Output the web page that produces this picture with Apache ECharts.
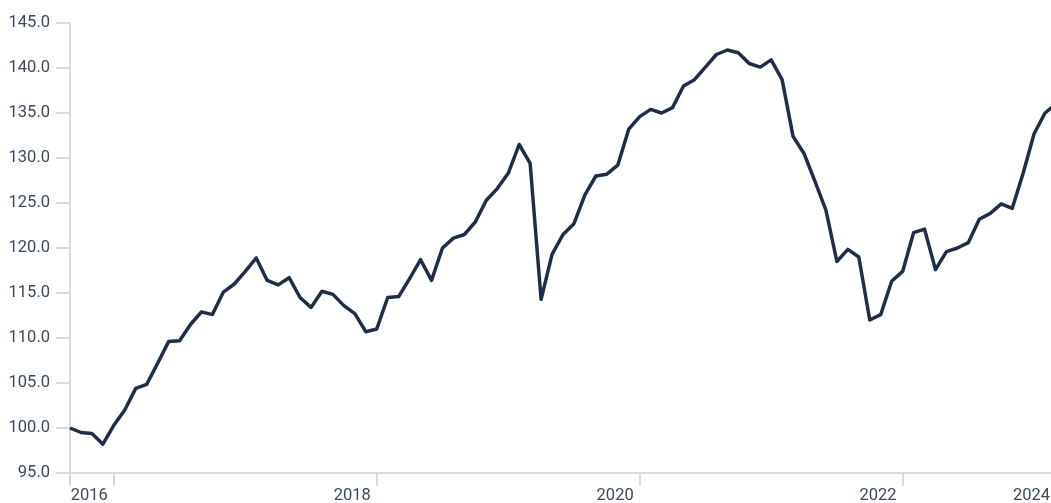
<!DOCTYPE html>
<html>
<head>
<meta charset="utf-8">
<script src="https://cdn.jsdelivr.net/npm/echarts@6/dist/echarts.min.js"></script>
<style>
html,body{margin:0;padding:0;background:#fff;}
#chart{width:1051px;height:503px;}
</style>
</head>
<body>
<div id="chart"></div>
<script>
const categories = [
 "2016-08","2016-09","2016-10","2016-11","2016-12",
 "2017-01","2017-02","2017-03","2017-04","2017-05","2017-06","2017-07","2017-08","2017-09","2017-10","2017-11","2017-12",
 "2018-01","2018-02","2018-03","2018-04","2018-05","2018-06","2018-07","2018-08","2018-09","2018-10","2018-11","2018-12",
 "2019-01","2019-02","2019-03","2019-04","2019-05","2019-06","2019-07","2019-08","2019-09","2019-10","2019-11","2019-12",
 "2020-01","2020-02","2020-03","2020-04","2020-05","2020-06","2020-07","2020-08","2020-09","2020-10","2020-11","2020-12",
 "2021-01","2021-02","2021-03","2021-04","2021-05","2021-06","2021-07","2021-08","2021-09","2021-10","2021-11","2021-12",
 "2022-01","2022-02","2022-03","2022-04","2022-05","2022-06","2022-07","2022-08","2022-09","2022-10","2022-11","2022-12",
 "2023-01","2023-02","2023-03","2023-04","2023-05","2023-06","2023-07","2023-08","2023-09","2023-10","2023-11","2023-12",
 "2024-01","2024-02"
];
const values = [
 100.0, 99.5, 99.4, 98.2, 100.3,
 102.0, 104.4, 104.85, 107.2, 109.6, 109.7, 111.5, 112.9, 112.6, 115.1, 116.0, 117.4,
 118.9, 116.4, 115.9, 116.7, 114.5, 113.4, 115.2, 114.85, 113.6, 112.7, 110.7, 111.0,
 114.5, 114.6, 116.6, 118.7, 116.4, 120.0, 121.1, 121.5, 122.9, 125.3, 126.6, 128.3,
 131.5, 129.4, 114.3, 119.3, 121.5, 122.7, 125.9, 128.0, 128.2, 129.2, 133.2, 134.6,
 135.4, 135.0, 135.6, 138.0, 138.7, 140.1, 141.5, 142.0, 141.7, 140.5, 140.1, 140.9,
 138.7, 132.4, 130.5, 127.4, 124.2, 118.5, 119.85, 119.0, 112.0, 112.6, 116.3, 117.4,
 121.7, 122.1, 117.6, 119.6, 120.0, 120.6, 123.2, 123.85, 124.9, 124.4, 128.3, 132.7,
 135.0, 136.0
];
const labelIndices = [4, 28, 52, 76, 90];
const tickIndices = [0, 4, 28, 52, 76, 90];
const yMin = 95, yMax = 145, yStep = 5;

const FONT = "'Liberation Sans Narrow', 'Roboto', sans-serif";
const TEXT = '#3b4a5f';
const AXIS = '#dadada';

const chart = echarts.init(document.getElementById('chart'), null, {renderer: 'canvas'});
chart.setOption({
  animation: false,
  grid: {left: 70, right: -5, top: 23, bottom: 30, containLabel: false, outerBoundsMode: 'none'},
  xAxis: {
    type: 'category',
    data: categories,
    boundaryGap: false,
    axisLine: {show: true, lineStyle: {color: AXIS, width: 2}},
    axisTick: {show: true, length: 13, interval: (i) => tickIndices.includes(i), lineStyle: {color: AXIS, width: 2}},
    axisLabel: {
      interval: (i) => labelIndices.includes(i),
      formatter: (v) => v.slice(0, 4),
      align: 'right',
      padding: [0, 6, 0, 0],
      margin: 14,
      color: TEXT,
      fontFamily: FONT,
      fontSize: 16.5,
      hideOverlap: false
    },
    splitLine: {show: false}
  },
  yAxis: {
    type: 'value',
    min: yMin, max: yMax, interval: yStep,
    axisLine: {show: true, lineStyle: {color: AXIS, width: 2}},
    axisTick: {show: true, length: 14, lineStyle: {color: AXIS, width: 2}},
    axisLabel: {
      formatter: (v) => v.toFixed(1),
      margin: 20,
      color: TEXT,
      fontFamily: FONT,
      fontSize: 16.5
    },
    splitLine: {show: false}
  },
  series: [{
    type: 'line',
    data: values,
    showSymbol: false,
    symbol: 'none',
    lineStyle: {color: '#1f2e47', width: 3.5, join: 'round'},
    clip: true
  }]
});
</script>
</body>
</html>
